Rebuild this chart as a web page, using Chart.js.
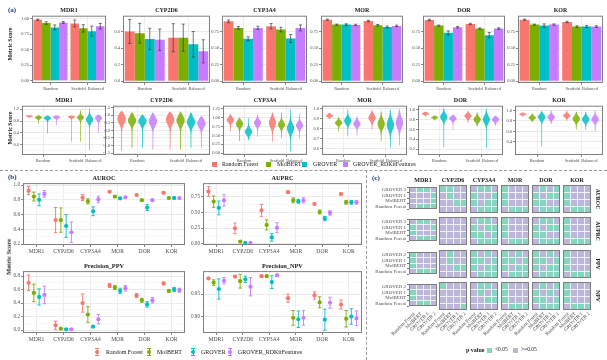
<!DOCTYPE html>
<html>
<head>
<meta charset="utf-8">
<script src="https://cdn.jsdelivr.net/npm/chart.js"></script>
<style>
  body { margin: 0; background: #fff; }
  #fig { position: relative; width: 607px; height: 360px; overflow: hidden; font-family: 'Liberation Serif', serif; }
  .txt { position: absolute; white-space: nowrap; line-height: 1; color: #1a1a1a; }
  .blk { position: absolute; }
</style>
</head>
<body>
<div id="fig"></div>
<script>
// ---- data ----
const models = ['Random Forest', 'MolBERT', 'GROVER', 'GROVER_RDKitFeatures'];
const targets = ['MDR1', 'CYP2D6', 'CYP3A4', 'MOR', 'DOR', 'KOR'];
const splits = ['Random', 'Scaffold_Balanced'];

// (a) AUROC bars, rows = models, columns = targets
const rocRandom = [
  [0.984, 0.60, 0.905, 0.93, 0.925, 0.93],
  [0.93, 0.58, 0.805, 0.855, 0.84, 0.855],
  [0.86, 0.51, 0.64, 0.855, 0.73, 0.84],
  [0.94, 0.50, 0.805, 0.85, 0.815, 0.855]
];
const rocRandomErr = [
  [0.01, 0.145, 0.02, 0.008, 0.01, 0.008],
  [0.02, 0.12, 0.02, 0.008, 0.008, 0.008],
  [0.04, 0.13, 0.03, 0.012, 0.03, 0.025],
  [0.015, 0.13, 0.025, 0.01, 0.012, 0.01]
];
const rocScaffold = [
  [0.925, 0.525, 0.83, 0.91, 0.865, 0.895],
  [0.845, 0.525, 0.78, 0.845, 0.795, 0.825],
  [0.80, 0.445, 0.645, 0.82, 0.695, 0.825],
  [0.88, 0.36, 0.805, 0.835, 0.795, 0.825]
];
const rocScaffoldErr = [
  [0.055, 0.17, 0.04, 0.01, 0.01, 0.01],
  [0.06, 0.165, 0.035, 0.012, 0.01, 0.012],
  [0.08, 0.155, 0.06, 0.015, 0.04, 0.015],
  [0.045, 0.14, 0.045, 0.012, 0.012, 0.012]
];
const barTicks = [
  ['0.00', '0.25', '0.50', '0.75', '1.00'],
  ['0.0', '0.2', '0.4', '0.6'],
  ['0.00', '0.25', '0.50', '0.75'],
  ['0.00', '0.25', '0.50', '0.75'],
  ['0.00', '0.25', '0.50', '0.75'],
  ['0.00', '0.25', '0.50', '0.75']
];
const barRange = [[-0.04, 1.05], [-0.024, 0.792], [-0.03, 0.99], [-0.03, 0.99], [-0.03, 0.99], [-0.03, 0.99]];

// (a) violins: [target][model] -> low, high, mode, spread
const vioLowRandom = [
  [0.9, 0.7, 0.37, 0.65], [-1.4, -1.2, -1.2, -1.3], [0.6, 0.32, 0.35, 0.45],
  [0.9, 0.77, 0.72, 0.73], [0.85, 0.78, 0.22, 0.6], [0.88, 0.78, 0.3, 0.73]
];
const vioHighRandom = [
  [1.0, 1.0, 1.0, 1.0], [1.3, 1.2, 1.05, 1.2], [1.1, 1.0, 1.0, 1.1],
  [0.96, 0.92, 1.0, 0.93], [0.96, 0.88, 1.05, 0.9], [0.96, 0.95, 1.0, 1.0]
];
const vioModeRandom = [
  [0.97, 0.92, 0.9, 0.93], [0.75, 0.65, 0.6, 0.6], [0.93, 0.82, 0.6, 0.85],
  [0.93, 0.86, 0.88, 0.85], [0.92, 0.84, 0.85, 0.82], [0.93, 0.86, 0.87, 0.87]
];
const vioSpreadRandom = [
  [0.025, 0.04, 0.05, 0.04], [0.3, 0.25, 0.22, 0.28], [0.07, 0.08, 0.08, 0.08],
  [0.012, 0.02, 0.03, 0.025], [0.02, 0.02, 0.06, 0.04], [0.015, 0.03, 0.05, 0.04]
];
const vioLowScaffold = [
  [0.08, 0.08, -0.22, 0.38], [-1.3, -1.3, -1.2, -1.2], [0.3, 0.4, 0.02, 0.4],
  [0.79, 0.67, 0.6, 0.63], [0.72, 0.65, 0.2, 0.68], [0.8, 0.63, 0.63, 0.6]
];
const vioHighScaffold = [
  [1.0, 1.2, 1.25, 1.02], [1.25, 1.25, 1.2, 0.95], [1.15, 1.15, 1.25, 1.12],
  [0.99, 0.98, 1.0, 1.0], [0.98, 0.95, 1.04, 0.88], [1.0, 0.98, 0.98, 1.0]
];
const vioModeScaffold = [
  [0.95, 0.92, 0.85, 0.9], [0.7, 0.65, 0.55, 0.45], [0.85, 0.8, 0.7, 0.78],
  [0.91, 0.85, 0.84, 0.86], [0.87, 0.8, 0.8, 0.8], [0.9, 0.84, 0.83, 0.83]
];
const vioSpreadScaffold = [
  [0.04, 0.06, 0.1, 0.07], [0.3, 0.28, 0.28, 0.25], [0.12, 0.08, 0.12, 0.08],
  [0.03, 0.04, 0.05, 0.05], [0.04, 0.05, 0.07, 0.04], [0.03, 0.05, 0.05, 0.05]
];
const vioTicks = [
  ['0.0', '0.4', '0.8', '1.2'],
  ['-1.5', '-1.0', '-0.5', '0.0', '0.5', '1.0', '1.5'],
  ['0.00', '0.25', '0.50', '0.75', '1.00', '1.25'],
  ['0.6', '0.7', '0.8', '0.9', '1.0'],
  ['0.2', '0.4', '0.6', '0.8', '1.0'],
  ['0.4', '0.6', '0.8', '1.0']
];
const vioRange = [[-0.35, 1.32], [-1.62, 1.62], [-0.05, 1.33], [0.54, 1.03], [0.08, 1.08], [0.15, 1.09]];

// (b) scaffold split metrics, rows = models, columns = targets
const prcMean = [
  [0.83, 0.245, 0.53, 0.82, 0.635, 0.79],
  [0.67, 0.036, 0.30, 0.69, 0.505, 0.66],
  [0.57, 0.016, 0.10, 0.675, 0.40, 0.66],
  [0.69, 0.016, 0.255, 0.69, 0.49, 0.66]
];
const prcErr = [
  [0.08, 0.085, 0.095, 0.02, 0.02, 0.015],
  [0.09, 0.008, 0.08, 0.04, 0.03, 0.03],
  [0.11, 0.005, 0.06, 0.03, 0.035, 0.03],
  [0.09, 0.005, 0.08, 0.04, 0.035, 0.03]
];
const ppvMean = [
  [0.70, 0.07, 0.40, 0.66, 0.51, 0.69],
  [0.55, 0.02, 0.23, 0.63, 0.44, 0.58],
  [0.49, 0.01, 0.05, 0.58, 0.38, 0.60],
  [0.52, 0.01, 0.16, 0.62, 0.44, 0.59]
];
const ppvErr = [
  [0.115, 0.06, 0.135, 0.03, 0.03, 0.02],
  [0.13, 0.01, 0.115, 0.03, 0.03, 0.02],
  [0.12, 0.006, 0.012, 0.04, 0.04, 0.03],
  [0.13, 0.006, 0.07, 0.04, 0.04, 0.03]
];
const npvMean = [
  [0.984, 0.988, 0.989, 0.941, 0.947, 0.927],
  [0.975, 0.978, 0.989, 0.898, 0.932, 0.896],
  [0.961, 0.982, 0.976, 0.895, 0.894, 0.901],
  [0.979, 0.966, 0.991, 0.898, 0.931, 0.897]
];
const npvErr = [
  [0.002, 0.002, 0.002, 0.009, 0.008, 0.01],
  [0.006, 0.015, 0.002, 0.016, 0.012, 0.018],
  [0.022, 0.007, 0.014, 0.018, 0.023, 0.017],
  [0.007, 0.02, 0.002, 0.016, 0.012, 0.016]
];
const metricNames = ['AUROC', 'AUPRC', 'Precision_PPV', 'Precision_NPV'];
const metricTicks = [
  ['0.2', '0.4', '0.6', '0.8', '1.0'],
  ['0.00', '0.25', '0.50', '0.75'],
  ['0.0', '0.2', '0.4', '0.6', '0.8'],
  ['0.90', '0.95']
];
const metricRange = [[0.187, 1.027], [-0.02, 0.964], [-0.044, 0.873], [0.865, 1.0]];

// (c) pairwise tests, 1 = p < 0.05; [target][row][col]
const hmRows = ['GROVER 2', 'GROVER 1', 'MolBERT', 'Random Forest'];
const hmCols = ['Random Forest', 'MolBERT', 'GROVER 1', 'GROVER 2'];
const hmStrips = ['AUROC', 'AUPRC', 'PPV', 'NPV'];
const sigAUROC = [
  [[0,1,1,0],[0,0,0,1],[0,0,0,1],[0,1,1,1]],
  [[1,1,0,0],[0,1,0,0],[0,0,1,1],[0,0,0,0]],
  [[0,1,1,0],[1,0,0,1],[1,0,1,1],[0,1,1,1]],
  [[1,0,0,0],[1,0,0,0],[1,0,0,0],[0,1,1,1]],
  [[0,1,0,1],[1,0,1,1],[1,1,0,0],[0,1,1,1]],
  [[1,0,0,0],[1,0,0,0],[1,0,0,0],[0,1,1,1]]
];
const sigAUPRC = [
  [[0,1,1,0],[1,0,0,1],[1,0,0,0],[0,1,1,1]],
  [[0,0,0,0],[0,0,0,0],[0,0,0,0],[0,0,0,0]],
  [[0,1,1,0],[1,0,1,1],[1,1,0,1],[0,1,1,1]],
  [[1,0,0,0],[1,0,0,0],[1,0,0,0],[0,1,1,1]],
  [[0,1,1,0],[1,0,1,1],[1,1,0,0],[0,1,1,1]],
  [[1,0,0,0],[1,0,0,0],[1,0,0,0],[0,1,1,1]]
];
const sigPPV = [
  [[1,0,0,0],[1,0,0,0],[1,0,0,0],[0,1,1,1]],
  [[0,1,0,0],[0,1,0,0],[0,0,1,1],[0,0,0,0]],
  [[1,0,1,0],[1,1,0,1],[1,0,1,1],[0,1,1,1]],
  [[1,0,1,0],[1,1,0,1],[1,0,1,1],[0,1,1,1]],
  [[1,0,1,0],[1,1,0,1],[1,0,1,1],[0,1,1,1]],
  [[1,0,0,0],[1,0,0,0],[1,0,0,0],[0,1,1,1]]
];
const sigNPV = [
  [[0,0,0,0],[1,0,0,0],[1,0,0,0],[0,1,1,0]],
  [[1,0,0,0],[0,0,0,0],[0,0,0,0],[0,0,0,1]],
  [[0,1,1,0],[0,1,0,1],[0,0,1,1],[0,0,0,0]],
  [[1,0,0,0],[1,0,0,0],[1,0,0,0],[0,1,1,1]],
  [[0,1,0,1],[1,0,1,0],[1,1,0,1],[0,1,1,1]],
  [[1,0,0,0],[1,0,0,0],[1,0,0,0],[0,1,1,1]]
];

// ---- style ----
const modelColors = ['#F8766D', '#7CAE00', '#00BFC4', '#C77CFF'];
const sigColor = '#85D5C1';
const nsColor = '#BDB6DB';
const labelBlue = '#1d3a78';
Chart.defaults.font.family = "'Liberation Serif', serif";
Chart.defaults.color = '#4d4d4d';

const fig = document.getElementById('fig');

function text(str, x, y, o) {
  o = o || {};
  const d = document.createElement('div');
  d.className = 'txt';
  d.textContent = str;
  d.style.left = x + 'px';
  d.style.top = y + 'px';
  d.style.fontSize = (o.size || 6) + 'px';
  if (o.bold) d.style.fontWeight = 'bold';
  if (o.color) d.style.color = o.color;
  let ax = '-50%';
  if (o.anchor === 'start') { ax = '0'; d.style.transformOrigin = '0 50%'; }
  if (o.anchor === 'end') { ax = '-100%'; d.style.transformOrigin = '100% 50%'; }
  d.style.transform = 'translate(' + ax + ',-50%)' + (o.rot ? ' rotate(' + o.rot + 'deg)' : '');
  fig.appendChild(d);
}

function block(x, y, w, h, css) {
  const d = document.createElement('div');
  d.className = 'blk';
  d.style.cssText += 'left:' + x + 'px;top:' + y + 'px;width:' + w + 'px;height:' + h + 'px;' + css;
  fig.appendChild(d);
}

// box = plot area [left, top, width, height]; pad = [left axis, top, right, bottom axis]
function plot(box, pad, cfg) {
  const cw = box[2] + pad[0] + pad[2], ch = box[3] + pad[1] + pad[3];
  const cv = document.createElement('canvas');
  cv.width = cw; cv.height = ch;
  cv.style.cssText = 'position:absolute;left:' + (box[0] - pad[0]) + 'px;top:' + (box[1] - pad[1]) + 'px;width:' + cw + 'px;height:' + ch + 'px;';
  fig.appendChild(cv);
  cfg.options = Object.assign({
    responsive: false,
    animation: false,
    devicePixelRatio: 1,
    layout: { padding: { left: 0, top: pad[1], right: pad[2], bottom: 0 } },
    plugins: { legend: { display: false }, tooltip: { enabled: false } }
  }, cfg.options);
  return new Chart(cv, cfg);
}

function catAxis(size, h) {
  return {
    type: 'category', offset: true,
    grid: { color: '#e6e6e6', lineWidth: 0.7, offset: false, tickLength: 2, tickColor: '#555' },
    border: { display: false },
    ticks: { font: { size: size }, color: '#4d4d4d', padding: 1, autoSkip: false, maxRotation: 0, minRotation: 0 },
    afterFit: s => { s.height = h; }
  };
}

function valAxis(labels, range, size, w) {
  const majors = labels.map(parseFloat);
  const step = majors[1] - majors[0];
  const vals = [];
  if (majors[0] - step / 2 > range[0]) vals.push(majors[0] - step / 2);
  majors.forEach((v, i) => {
    vals.push(v);
    if (i < majors.length - 1) vals.push((v + majors[i + 1]) / 2);
  });
  const last = majors[majors.length - 1];
  if (last + step / 2 < range[1]) vals.push(last + step / 2);
  const isMajor = c => c.tick && majors.indexOf(c.tick.value) >= 0;
  return {
    type: 'linear', min: range[0], max: range[1],
    afterBuildTicks: s => { s.ticks = vals.map(v => ({ value: v })); },
    grid: {
      color: c => isMajor(c) ? '#e3e3e3' : '#f1f1f1',
      lineWidth: c => isMajor(c) ? 0.7 : 0.5,
      tickColor: c => isMajor(c) ? '#555' : 'rgba(0,0,0,0)',
      tickLength: 2
    },
    border: { display: false },
    ticks: {
      font: { size: size }, color: '#4d4d4d', padding: 1, autoSkip: false,
      callback: v => { const i = majors.indexOf(v); return i < 0 ? '' : labels[i]; }
    },
    afterFit: s => { s.width = w; }
  };
}

// ---- plugins ----
const panelBox = {
  id: 'panelBox',
  afterDraw(chart) {
    const a = chart.chartArea, ctx = chart.ctx;
    ctx.save();
    ctx.strokeStyle = '#808080';
    ctx.lineWidth = 1;
    ctx.strokeRect(a.left + 0.5, a.top + 0.5, a.right - a.left - 1, a.bottom - a.top - 1);
    ctx.restore();
  }
};

const barErrors = {
  id: 'barErrors',
  afterDatasetsDraw(chart) {
    const ctx = chart.ctx, y = chart.scales.y;
    ctx.save();
    ctx.strokeStyle = '#3a3a3a';
    ctx.lineWidth = 0.7;
    chart.data.datasets.forEach((ds, k) => {
      chart.getDatasetMeta(k).data.forEach((bar, i) => {
        const top = y.getPixelForValue(ds.data[i] + ds.err[i]);
        const bot = y.getPixelForValue(ds.data[i] - ds.err[i]);
        ctx.beginPath();
        ctx.moveTo(bar.x, top); ctx.lineTo(bar.x, bot);
        ctx.moveTo(bar.x - 1.5, top); ctx.lineTo(bar.x + 1.5, top);
        ctx.moveTo(bar.x - 1.5, bot); ctx.lineTo(bar.x + 1.5, bot);
        ctx.stroke();
      });
    });
    ctx.restore();
  }
};

const dotErrors = {
  id: 'dotErrors',
  afterDatasetsDraw(chart) {
    const ctx = chart.ctx, y = chart.scales.y;
    ctx.save();
    chart.data.datasets.forEach((ds, k) => {
      chart.getDatasetMeta(k).data.forEach((el, i) => {
        const lo = y.getPixelForValue(ds.data[i][0]);
        const hi = y.getPixelForValue(ds.data[i][1]);
        const m = y.getPixelForValue(ds.mean[i]);
        ctx.strokeStyle = ds.dotColor;
        ctx.lineWidth = 0.9;
        ctx.beginPath();
        ctx.moveTo(el.x, lo); ctx.lineTo(el.x, hi);
        ctx.moveTo(el.x - 1.7, lo); ctx.lineTo(el.x + 1.7, lo);
        ctx.moveTo(el.x - 1.7, hi); ctx.lineTo(el.x + 1.7, hi);
        ctx.stroke();
        ctx.fillStyle = ds.dotColor;
        ctx.beginPath();
        ctx.arc(el.x, m, 2.1, 0, Math.PI * 2);
        ctx.fill();
      });
    });
    ctx.restore();
  }
};

const violins = {
  id: 'violins',
  afterDatasetsDraw(chart) {
    const ctx = chart.ctx, y = chart.scales.y;
    ctx.save();
    chart.data.datasets.forEach((ds, k) => {
      chart.getDatasetMeta(k).data.forEach((el, i) => {
        const lo = ds.data[i][0], hi = ds.data[i][1];
        const half = el.width * 0.4, n = 48;
        const pts = [];
        for (let s = 0; s <= n; s++) {
          const v = lo + (hi - lo) * s / n;
          const dens = Math.exp(-0.5 * Math.pow((v - ds.mode[i]) / ds.spread[i], 2));
          const taper = Math.min(1, s / 2, (n - s) / 2);
          pts.push([y.getPixelForValue(v), half * (0.1 + 0.9 * dens) * taper]);
        }
        ctx.fillStyle = ds.vioColor;
        ctx.globalAlpha = 0.85;
        ctx.beginPath();
        pts.forEach((p, j) => j ? ctx.lineTo(el.x - p[1], p[0]) : ctx.moveTo(el.x - p[1], p[0]));
        for (let j = pts.length - 1; j >= 0; j--) ctx.lineTo(el.x + pts[j][1], pts[j][0]);
        ctx.closePath();
        ctx.fill();
      });
    });
    ctx.restore();
  }
};

// ---- (a) bar row ----
const barBoxes = [[32, 15, 74, 68], [123, 15, 87, 68], [222, 15, 85, 68], [321, 15, 82, 68], [423, 15, 82, 68], [518, 15, 85, 68]];
targets.forEach((t, i) => {
  const b = barBoxes[i];
  plot(b, [14, 3, 3, 7], {
    type: 'bar',
    data: {
      labels: splits,
      datasets: models.map((m, k) => ({
        label: m,
        data: [rocRandom[k][i], rocScaffold[k][i]],
        err: [rocRandomErr[k][i], rocScaffoldErr[k][i]],
        backgroundColor: modelColors[k],
        borderWidth: 0, categoryPercentage: 0.92, barPercentage: 1
      }))
    },
    options: { scales: { x: catAxis(4.3, 7), y: valAxis(barTicks[i], barRange[i], 4.5, 14) } },
    plugins: [barErrors, panelBox]
  });
  text(t, b[0] + b[2] / 2, 9.5, { size: 6, bold: true });
});

// ---- (a) violin row ----
const vioBoxes = [[22, 105, 84, 50], [113, 105, 97, 50], [223, 105, 84, 50], [322, 105, 85, 50], [418, 105, 85, 50], [515, 105, 88, 50]];
targets.forEach((t, i) => {
  const b = vioBoxes[i];
  plot(b, [16, 3, 3, 7], {
    type: 'bar',
    data: {
      labels: splits,
      datasets: models.map((m, k) => ({
        label: m,
        data: [[vioLowRandom[i][k], vioHighRandom[i][k]], [vioLowScaffold[i][k], vioHighScaffold[i][k]]],
        mode: [vioModeRandom[i][k], vioModeScaffold[i][k]],
        spread: [vioSpreadRandom[i][k], vioSpreadScaffold[i][k]],
        vioColor: modelColors[k],
        backgroundColor: 'rgba(0,0,0,0)',
        borderWidth: 0, categoryPercentage: 0.86, barPercentage: 1
      }))
    },
    options: { scales: { x: catAxis(4.3, 7), y: valAxis(vioTicks[i], vioRange[i], 4.5, 16) } },
    plugins: [violins, panelBox]
  });
  text(t, b[0] + b[2] / 2, 99.5, { size: 6, bold: true });
});

// ---- (b) point ranges ----
const metricMeans = [rocScaffold, prcMean, ppvMean, npvMean];
const metricErrs = [rocScaffoldErr, prcErr, ppvErr, npvErr];
const dotBoxes = [[23, 182, 162, 63], [203, 182, 159, 63], [23, 270, 162, 63], [203, 270, 159, 63]];
metricNames.forEach((name, j) => {
  const b = dotBoxes[j];
  plot(b, [18, 3, 3, 10], {
    type: 'bar',
    data: {
      labels: targets,
      datasets: models.map((m, k) => ({
        label: m,
        data: targets.map((t, i) => [metricMeans[j][k][i] - metricErrs[j][k][i], metricMeans[j][k][i] + metricErrs[j][k][i]]),
        mean: metricMeans[j][k],
        dotColor: modelColors[k],
        backgroundColor: 'rgba(0,0,0,0)',
        borderWidth: 0, categoryPercentage: 0.78, barPercentage: 1
      }))
    },
    options: { scales: { x: catAxis(5.6, 10), y: valAxis(metricTicks[j], metricRange[j], 5.2, 18) } },
    plugins: [dotErrors, panelBox]
  });
  text(name, b[0] + b[2] / 2, b[1] - 4.5, { size: 6.3, bold: true });
});

// ---- (c) significance heatmaps ----
const sigAll = [sigAUROC, sigAUPRC, sigPPV, sigNPV];
const hmLeft = [409, 439, 470, 501, 532, 563];
const hmTop = [185, 217, 250, 282];
const hmSize = 28;
sigAll.forEach((sig, r) => {
  targets.forEach((t, c) => {
    const mat = sig[c];
    const padL = c === 0 ? 40 : 0;
    plot([hmLeft[c], hmTop[r], hmSize, hmSize], [padL, 2, 2, 0], {
      type: 'bar',
      data: {
        labels: hmRows,
        datasets: hmCols.map((col, j) => ({
          label: col,
          data: hmRows.map(() => 1),
          backgroundColor: hmRows.map((row, i) => mat[i][j] ? sigColor : nsColor),
          borderWidth: 0, barPercentage: 1, categoryPercentage: 1
        }))
      },
      options: {
        indexAxis: 'y',
        scales: {
          x: {
            type: 'linear', stacked: true, min: 0, max: 4,
            afterBuildTicks: s => { s.ticks = [0, 1, 2, 3, 4].map(v => ({ value: v })); },
            ticks: { display: false },
            grid: { color: '#ffffff', lineWidth: 0.8, z: 1, drawTicks: false },
            border: { display: false },
            afterFit: s => { s.height = 0; }
          },
          y: {
            type: 'category', stacked: true, offset: true,
            ticks: { display: c === 0, font: { size: 5 }, color: '#4d4d4d', padding: 1, autoSkip: false },
            grid: { color: '#ffffff', lineWidth: 0.8, z: 1, offset: true, tickLength: 2, tickColor: '#555', drawTicks: c === 0 },
            border: { display: false },
            afterFit: s => { s.width = padL; }
          }
        }
      },
      plugins: [panelBox]
    });
    if (r === 0) text(t, hmLeft[c] + hmSize / 2, 180, { size: 6, bold: true });
    if (r === 3) {
      hmCols.forEach((col, j) => {
        text(col, hmLeft[c] + (j + 0.5) * hmSize / 4 + 1, 313, { size: 5, anchor: 'end', rot: -45, color: '#4d4d4d' });
      });
    }
  });
  text(hmStrips[r], 597, hmTop[r] + hmSize / 2, { size: 5.6, bold: true, rot: 90 });
});

// ---- labels, legends, separators ----
text('(a)', 8, 10, { size: 7, bold: true, color: labelBlue, anchor: 'start' });
text('(b)', 8, 177, { size: 7, bold: true, color: labelBlue, anchor: 'start' });
text('(c)', 372, 178, { size: 7, bold: true, color: labelBlue, anchor: 'start' });
text('Metric Score', 10, 44, { size: 6, bold: true, rot: -90 });
text('Metric Score', 10, 128, { size: 6, bold: true, rot: -90 });
text('Metric Score', 9, 257, { size: 6.5, bold: true, rot: -90 });

const legAKey = [212, 266, 302, 343];
const legAText = [222, 277, 313, 353];
models.forEach((m, k) => {
  block(legAKey[k], 162, 5, 5, 'background:' + modelColors[k] + ';');
  text(m, legAText[k], 164.8, { size: 5.9, anchor: 'start' });
});

const legBKey = [97, 149, 193, 230];
const legBText = [106, 157, 201, 238];
models.forEach((m, k) => {
  const x = legBKey[k], c = modelColors[k];
  block(x - 0.5, 348, 1, 8, 'background:' + c + ';');
  block(x - 1.8, 348, 3.6, 0.9, 'background:' + c + ';');
  block(x - 1.8, 355.1, 3.6, 0.9, 'background:' + c + ';');
  block(x - 2, 350, 4, 4, 'background:' + c + ';border-radius:50%;');
  text(m, legBText[k], 352, { size: 6, anchor: 'start' });
});

text('p value', 466, 350, { size: 6, bold: true, anchor: 'start' });
block(487, 347.5, 5, 5, 'background:' + sigColor + ';');
text('<0.05', 495, 350, { size: 5.5, anchor: 'start' });
block(513, 347.5, 5, 5, 'background:' + nsColor + ';');
text('>=0.05', 521, 350, { size: 5.5, anchor: 'start' });

block(0, 170, 607, 0, 'border-top:1px dashed #9a9a9a;');
block(366, 170, 0, 190, 'border-left:1px dashed #9a9a9a;');
</script>
</body>
</html>
